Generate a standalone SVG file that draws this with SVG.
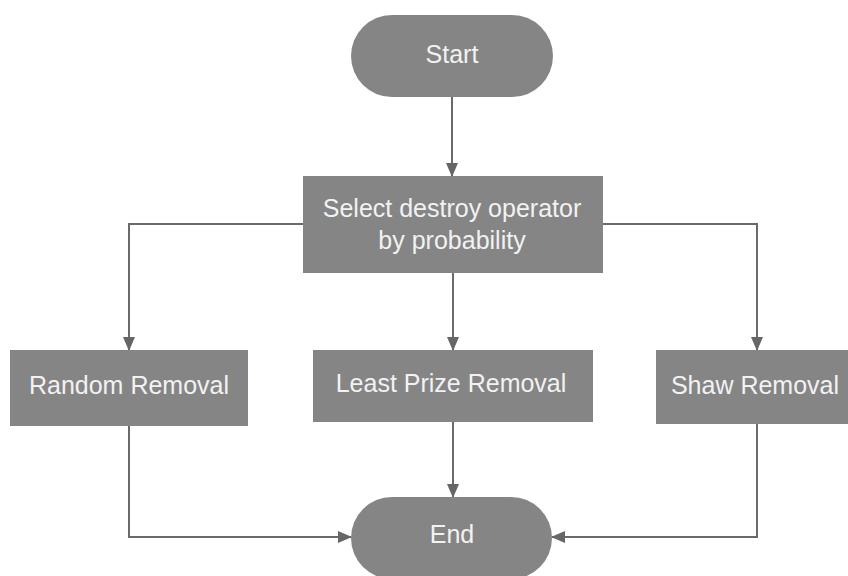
<svg xmlns="http://www.w3.org/2000/svg" width="848" height="576" viewBox="0 0 848 576">
  <style>
    .shape { fill: #858585; }
    .label { font-family: "Liberation Sans", Arial, sans-serif; font-size: 25px; fill: #f2f2f2; text-anchor: middle; }
    .edge { fill: none; stroke: #6a6a6a; stroke-width: 2; }
  </style>
  <defs>
    <marker id="arrow" viewBox="0 0 14 12" refX="13" refY="6" markerWidth="14" markerHeight="12" markerUnits="userSpaceOnUse" orient="auto">
      <path d="M0,0 L14,6 L0,12 Z" fill="#666666"/>
    </marker>
  </defs>
  <rect width="848" height="576" fill="#ffffff"/>

  <g id="connectors">
    <path class="edge" d="M452,97 V176" marker-end="url(#arrow)"/>
    <path class="edge" d="M303,224 H129 V350" marker-end="url(#arrow)"/>
    <path class="edge" d="M453,273 V350" marker-end="url(#arrow)"/>
    <path class="edge" d="M603,224 H757 V350" marker-end="url(#arrow)"/>
    <path class="edge" d="M129,426 V537 H351" marker-end="url(#arrow)"/>
    <path class="edge" d="M453,422 V497" marker-end="url(#arrow)"/>
    <path class="edge" d="M757,424 V537 H552" marker-end="url(#arrow)"/>
  </g>

  <g id="start">
    <rect class="shape" x="351" y="15" width="202" height="82" rx="41" ry="41"/>
    <text class="label" x="452" y="63">Start</text>
  </g>

  <g id="select">
    <rect class="shape" x="303" y="176" width="300" height="97"/>
    <text class="label" x="452" y="217">Select destroy operator</text>
    <text class="label" x="452" y="249">by probability</text>
  </g>

  <g id="random">
    <rect class="shape" x="10" y="350" width="238" height="76"/>
    <text class="label" x="129" y="394">Random Removal</text>
  </g>

  <g id="least-prize">
    <rect class="shape" x="313" y="350" width="280" height="72"/>
    <text class="label" x="451" y="392">Least Prize Removal</text>
  </g>

  <g id="shaw">
    <rect class="shape" x="656" y="350" width="202" height="74"/>
    <text class="label" x="755" y="394">Shaw Removal</text>
  </g>

  <g id="end">
    <rect class="shape" x="351" y="497" width="201" height="82" rx="41" ry="41"/>
    <text class="label" x="452" y="543">End</text>
  </g>
</svg>
